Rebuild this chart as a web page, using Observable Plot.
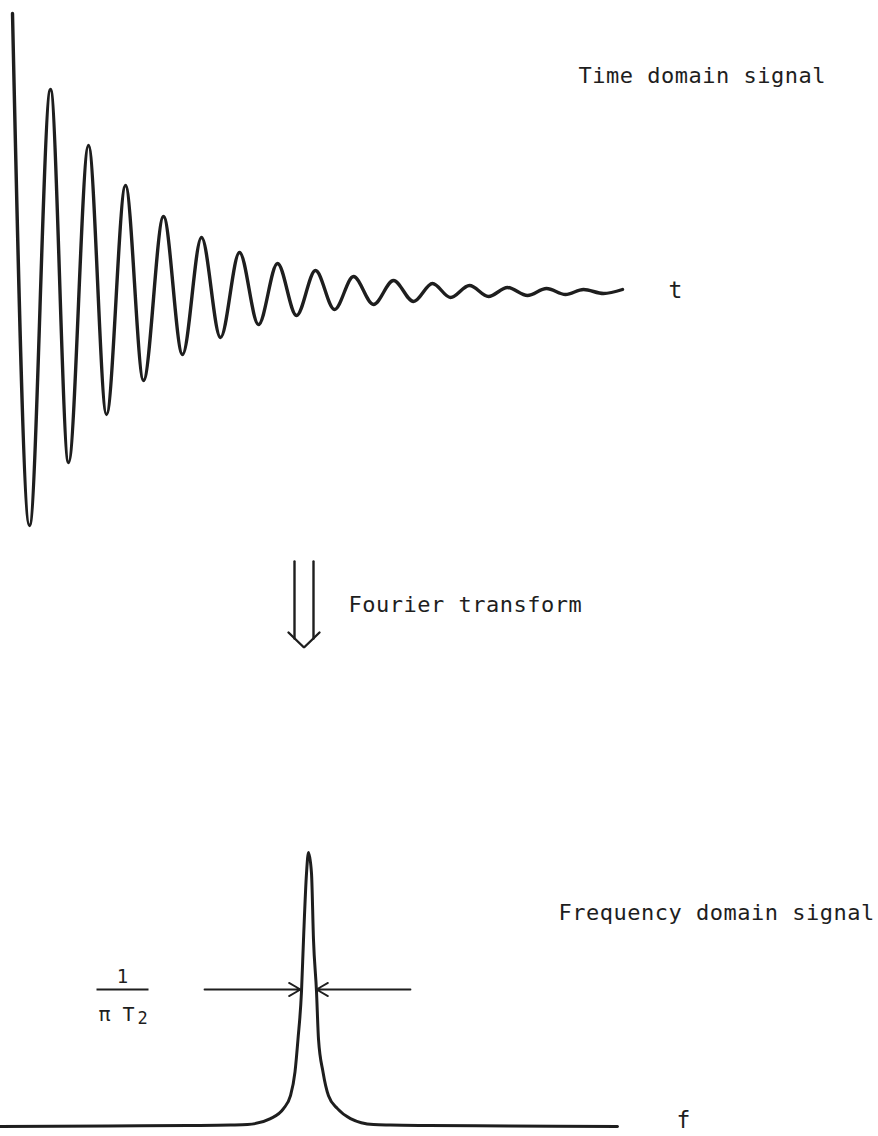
<!DOCTYPE html>
<html><head><meta charset="utf-8">
<script src="https://cdn.jsdelivr.net/npm/d3@7"></script>
<script src="https://cdn.jsdelivr.net/npm/@observablehq/plot@0.6"></script>
<style>
html,body{margin:0;padding:0;background:#fff;}
#chart{width:878px;height:1136px;position:relative;overflow:hidden;background:#fff;}
#chart svg{display:block;background:#fff;}
</style></head><body><div id="chart"></div>
<script>
// ---- Time domain signal: successive extrema (arbitrary units)
const timeT   = [0,17,38,56,76,94,113,131,151,170,189,208,227,246,265,284,303,322,341,361,381,401,420,438,457,476,495,515,534,553,571,591,610];
const timeAmp = [278,-234,202,-171,146,-123,106,-89,75,-63,54,-46,39,-33,28,-24,21,-18,15,-13,11,-10,8,-6,6,-5,4,-4,3,-3,2,-2,2];

// ---- Frequency domain signal: points (arbitrary units)
const freqF = [-308,-200,-120,-78,-61,-38,-25,-18,-13.5,-10.5,-7,-5,-2,0,3,5,8,10,14.5,20,29,42,65,82,120,200,309];
const freqI = [0,0.5,1,1.5,2,8,18,31,55,88,136,188,255,276,255,188,136,88,55,31,18,8,2,1.5,1,0.5,0];

// ---- Texts
const timeLabel = "Time domain signal";
const timeAxisLabel = "t";
const transformLabel = "Fourier transform";
const freqLabel = "Frequency domain signal";
const freqAxisLabel = "f";
const widthNumerator = "1";
const widthDenominator = "\u03C0 T";
const widthSubscript = "2";

(function () {
const ink = "#1e1e1e";
const font = "DejaVu Sans Mono";
const spaced = new Set([timeLabel, transformLabel, freqLabel]);

const timeData = timeT.map((t, i) => ({t, amp: timeAmp[i]}));
const freqData = freqF.map((f, i) => ({f, I: freqI[i]}));

const chart = document.getElementById("chart");
const tag = (svg) => {
  d3.select(svg).selectAll("text").each(function () {
    if (spaced.has(this.textContent)) this.setAttribute("letter-spacing", "0.5");
  });
  return svg;
};

// ---------- Top panel: time domain ----------
const timePlot = Plot.plot({
  width: 878, height: 545,
  marginLeft: 12, marginRight: 256, marginTop: 13, marginBottom: 20,
  x: {domain: [0, 610], axis: null},
  y: {domain: [-234, 278], axis: null},
  style: {background: "#fff", overflow: "visible"},
  marks: [
    Plot.line(timeData, {x: "t", y: "amp", curve: "monotone-x", stroke: ink, strokeWidth: 3.4, strokeLinejoin: "round", strokeLinecap: "round"}),
    Plot.text([timeLabel], {x: 566, y: 216, text: d => d, textAnchor: "start", fontSize: 22, fontFamily: font, fill: ink}),
    Plot.text([timeAxisLabel], {x: 663, y: 1, text: d => d, textAnchor: "middle", fontSize: 23, fontFamily: font, fill: ink})
  ]
});
chart.appendChild(tag(timePlot));

// ---------- Middle panel: Fourier transform arrow ----------
const fMin = freqF[0], fMax = freqF[freqF.length - 1];
const shaftL = -14, shaftR = 5, headL = -20, headR = 11, tipX = -4.5;
const midPlot = Plot.plot({
  width: 878, height: 285,
  marginLeft: 0, marginRight: 261, marginTop: 0, marginBottom: 0,
  x: {domain: [fMin, fMax], axis: null},
  y: {domain: [285, 0], axis: null},
  style: {background: "#fff", overflow: "visible"},
  marks: [
    Plot.line([{x: shaftL, y: 16}, {x: shaftL, y: 93}], {x: "x", y: "y", stroke: ink, strokeWidth: 2.4}),
    Plot.line([{x: shaftR, y: 16}, {x: shaftR, y: 93}], {x: "x", y: "y", stroke: ink, strokeWidth: 2.4}),
    Plot.line([{x: headL, y: 87}, {x: tipX, y: 102}, {x: headR, y: 87}], {x: "x", y: "y", stroke: ink, strokeWidth: 2.4, strokeLinejoin: "miter"}),
    Plot.text([transformLabel], {x: 40, y: 59, text: d => d, textAnchor: "start", fontSize: 22, fontFamily: font, fill: ink})
  ]
});
chart.appendChild(tag(midPlot));

// ---------- Bottom panel: frequency domain ----------
const peak = d3.max(freqI);
const half = peak / 2;
const freqPlot = Plot.plot({
  width: 878, height: 306,
  marginLeft: 0, marginRight: 261, marginTop: 22, marginBottom: 10,
  x: {domain: [fMin, fMax], axis: null},
  y: {domain: [0, peak], axis: null},
  style: {background: "#fff", overflow: "visible"},
  marks: [
    Plot.line(freqData, {x: "f", y: "I", curve: "monotone-x", stroke: ink, strokeWidth: 3, strokeLinejoin: "round"}),
    Plot.arrow([{x1: -104, x2: -8, y: half}], {x1: "x1", x2: "x2", y1: "y", y2: "y", stroke: ink, strokeWidth: 1.8, headLength: 11}),
    Plot.arrow([{x1: 102, x2: 8, y: half}], {x1: "x1", x2: "x2", y1: "y", y2: "y", stroke: ink, strokeWidth: 1.8, headLength: 11}),
    Plot.link([{x1: -212, x2: -160, y: half}], {x1: "x1", x2: "x2", y1: "y", y2: "y", stroke: ink, strokeWidth: 2}),
    Plot.text([widthNumerator], {x: -186, y: half + 13, text: d => d, textAnchor: "middle", fontSize: 19, fontFamily: font, fill: ink}),
    Plot.text([widthDenominator], {x: -210, y: half - 25, text: d => d, textAnchor: "start", fontSize: 20, fontFamily: font, fill: ink}),
    Plot.text([widthSubscript], {x: -171, y: half - 29, text: d => d, textAnchor: "start", fontSize: 17, fontFamily: font, fill: ink}),
    Plot.text([freqLabel], {x: 250, y: 215, text: d => d, textAnchor: "start", fontSize: 22, fontFamily: font, fill: ink}),
    Plot.text([freqAxisLabel], {x: 375, y: 6, text: d => d, textAnchor: "middle", fontSize: 23, fontFamily: font, fill: ink})
  ]
});
chart.appendChild(tag(freqPlot));
})();
</script>
</body></html>
